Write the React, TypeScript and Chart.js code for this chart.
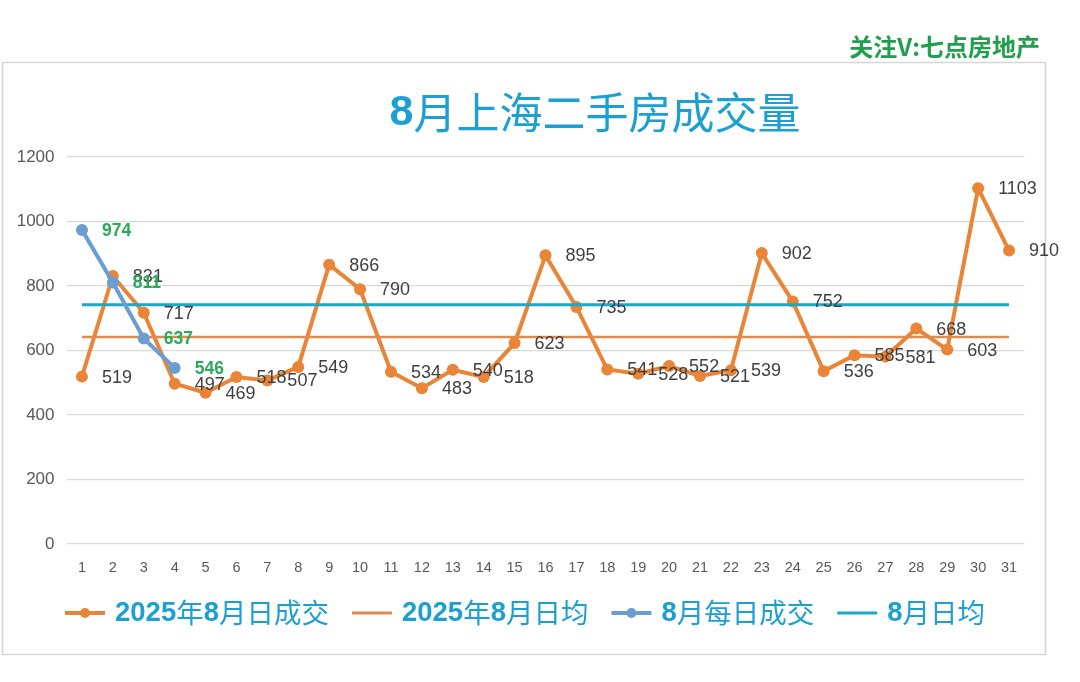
import React, { useEffect, useRef } from "react";
import { Chart, registerables } from "chart.js";

Chart.register(...registerables);

const days = ["1","2","3","4","5","6","7","8","9","10","11","12","13","14","15","16","17","18","19","20","21","22","23","24","25","26","27","28","29","30","31"];
const daily2025 = [519, 831, 717, 497, 469, 518, 507, 549, 866, 790, 534, 483, 540, 518, 623, 895, 735, 541, 528, 552, 521, 539, 902, 752, 536, 585, 581, 668, 603, 1103, 910];
const avg2025 = 642;
const dailyAug = [974, 811, 637, 546];
const avgAug = 742;
const seriesNames = ["2025年8月日成交", "2025年8月日均", "8月每日成交", "8月日均"];
const yTicks = [0, 200, 400, 600, 800, 1000, 1200];
const titleText = "8月上海二手房成交量";
const watermark = "关注V:七点房地产";

const ORANGE = "#EA8437";
const ORANGE_AVG = "#E08B4C";
const BLUE = "#6A9ED3";
const CYAN = "#19A9C6";
const TEXT_BLUE = "#1CA0D2";
const GREEN = "#1F9E4C";
const LABEL_GREEN = "#2BA85A";

const ASCII_FONT = '"Liberation Sans", Arial, sans-serif';
const CJK_FONT = '"Noto Sans CJK SC", sans-serif';

function runs(text: string) {
  return text.match(/[\x00-\x7F]+|[^\x00-\x7F]+/g) || [];
}

function mixedWidth(ctx: CanvasRenderingContext2D, text: string, size: number) {
  let w = 0;
  for (const r of runs(text)) {
    ctx.font = /[\x00-\x7F]/.test(r[0]) ? `bold ${size}px ${ASCII_FONT}` : `${size}px ${CJK_FONT}`;
    w += ctx.measureText(r).width;
  }
  return w;
}

function drawMixed(ctx: CanvasRenderingContext2D, text: string, x: number, y: number, size: number, color: string) {
  ctx.fillStyle = color;
  ctx.textAlign = "left";
  ctx.textBaseline = "middle";
  let cx = x;
  for (const r of runs(text)) {
    ctx.font = /[\x00-\x7F]/.test(r[0]) ? `bold ${size}px ${ASCII_FONT}` : `${size}px ${CJK_FONT}`;
    ctx.fillText(r, cx, y);
    cx += ctx.measureText(r).width;
  }
  return cx - x;
}

const decorPlugin = {
  id: "decor",
  beforeDraw(chart: any) {
    const ctx = chart.ctx as CanvasRenderingContext2D;
    ctx.save();
    ctx.fillStyle = "#ffffff";
    ctx.fillRect(0, 0, chart.width, chart.height);
    ctx.strokeStyle = "#d6d6d6";
    ctx.lineWidth = 1.5;
    ctx.strokeRect(2.5, 62.5, 1043, 592);
    // watermark
    ctx.font = `bold 24px ${CJK_FONT}`;
    ctx.fillStyle = GREEN;
    ctx.textAlign = "right";
    ctx.textBaseline = "middle";
    ctx.fillText(watermark, 1040, 47);
    // title
    const tw = mixedWidth(ctx, titleText, 43);
    drawMixed(ctx, titleText, 595 - tw / 2, 113, 43, TEXT_BLUE);
    ctx.restore();
  },
  afterDatasetsDraw(chart: any) {
    const ctx = chart.ctx as CanvasRenderingContext2D;
    ctx.save();
    ctx.textAlign = "left";
    ctx.textBaseline = "middle";
    chart.data.datasets.forEach((ds: any, i: number) => {
      if (!ds.showLabels) return;
      const meta = chart.getDatasetMeta(i);
      ctx.font = ds.labelBold ? `bold 17.5px ${ASCII_FONT}` : `18px ${ASCII_FONT}`;
      ctx.fillStyle = ds.labelColor;
      meta.data.forEach((pt: any, j: number) => {
        ctx.fillText(String(ds.data[j]), pt.x + 20, pt.y + 1);
      });
    });
    // legend
    const items = [
      { color: ORANGE, marker: true, lw: 4 },
      { color: ORANGE_AVG, marker: false, lw: 3 },
      { color: BLUE, marker: true, lw: 4 },
      { color: CYAN, marker: false, lw: 3 },
    ];
    let x = 65;
    const y = 613;
    items.forEach((it, k) => {
      ctx.strokeStyle = it.color;
      ctx.lineWidth = it.lw;
      ctx.beginPath();
      ctx.moveTo(x, y);
      ctx.lineTo(x + 40, y);
      ctx.stroke();
      if (it.marker) {
        ctx.fillStyle = it.color;
        ctx.beginPath();
        ctx.arc(x + 20, y, 5, 0, Math.PI * 2);
        ctx.fill();
      }
      x += 50;
      const w = drawMixed(ctx, seriesNames[k], x, y, 27.5, TEXT_BLUE);
      x += w + 23;
    });
    ctx.restore();
  },
};

export default function App() {
  const ref = useRef<HTMLCanvasElement>(null);
  useEffect(() => {
    if (!ref.current) return;
    const chart = new Chart(ref.current, {
      type: "line",
      data: {
        labels: days,
        datasets: [
          {
            label: seriesNames[0],
            data: daily2025,
            borderColor: ORANGE,
            backgroundColor: ORANGE,
            borderWidth: 4,
            pointRadius: 6,
            pointHoverRadius: 6,
            pointBorderWidth: 0,
            tension: 0,
            order: 3,
            showLabels: true,
            labelColor: "#404040",
            labelBold: false,
          } as any,
          {
            label: seriesNames[1],
            data: [{ x: days[0], y: avg2025 }, { x: days[days.length - 1], y: avg2025 }],
            borderColor: ORANGE_AVG,
            backgroundColor: ORANGE_AVG,
            borderWidth: 2.5,
            pointRadius: 0,
            order: 2,
          } as any,
          {
            label: seriesNames[2],
            data: dailyAug,
            borderColor: BLUE,
            backgroundColor: BLUE,
            borderWidth: 4,
            pointRadius: 6,
            pointHoverRadius: 6,
            pointBorderWidth: 0,
            tension: 0,
            order: 0,
            showLabels: true,
            labelColor: LABEL_GREEN,
            labelBold: true,
          } as any,
          {
            label: seriesNames[3],
            data: [{ x: days[0], y: avgAug }, { x: days[days.length - 1], y: avgAug }],
            borderColor: CYAN,
            backgroundColor: CYAN,
            borderWidth: 3,
            pointRadius: 0,
            order: 1,
          } as any,
        ],
      },
      options: {
        responsive: false,
        animation: false,
        devicePixelRatio: 1,
        layout: { padding: { left: 0, top: 157, right: 55.5, bottom: 98 } },
        plugins: {
          legend: { display: false },
          title: { display: false },
          tooltip: { enabled: false },
        },
        scales: {
          x: {
            type: "category",
            offset: true,
            grid: { display: false, drawTicks: false },
            border: { display: false },
            ticks: {
              color: "#595959",
              font: { family: ASCII_FONT, size: 14.5 },
              padding: 15,
              maxRotation: 0,
              autoSkip: false,
            },
            afterFit: (s: any) => { s.height = 40; },
          },
          y: {
            min: 0,
            max: 1200,
            grid: { color: "#d9d9d9", lineWidth: 1.2, drawTicks: false },
            border: { display: false },
            ticks: {
              stepSize: 200,
              color: "#595959",
              font: { family: ASCII_FONT, size: 17 },
              padding: 12,
              callback: (v: any) => (yTicks.includes(Number(v)) ? String(v) : ""),
            },
            afterFit: (s: any) => { s.width = 66.5; },
          },
        },
      },
      plugins: [decorPlugin],
    });
    return () => chart.destroy();
  }, []);
  return (
    <div style={{ position: "absolute", left: 0, top: 0, width: 1080, height: 682, background: "#fff" }}>
      <canvas ref={ref} width={1080} height={682} style={{ width: 1080, height: 682, display: "block" }} />
    </div>
  );
}
